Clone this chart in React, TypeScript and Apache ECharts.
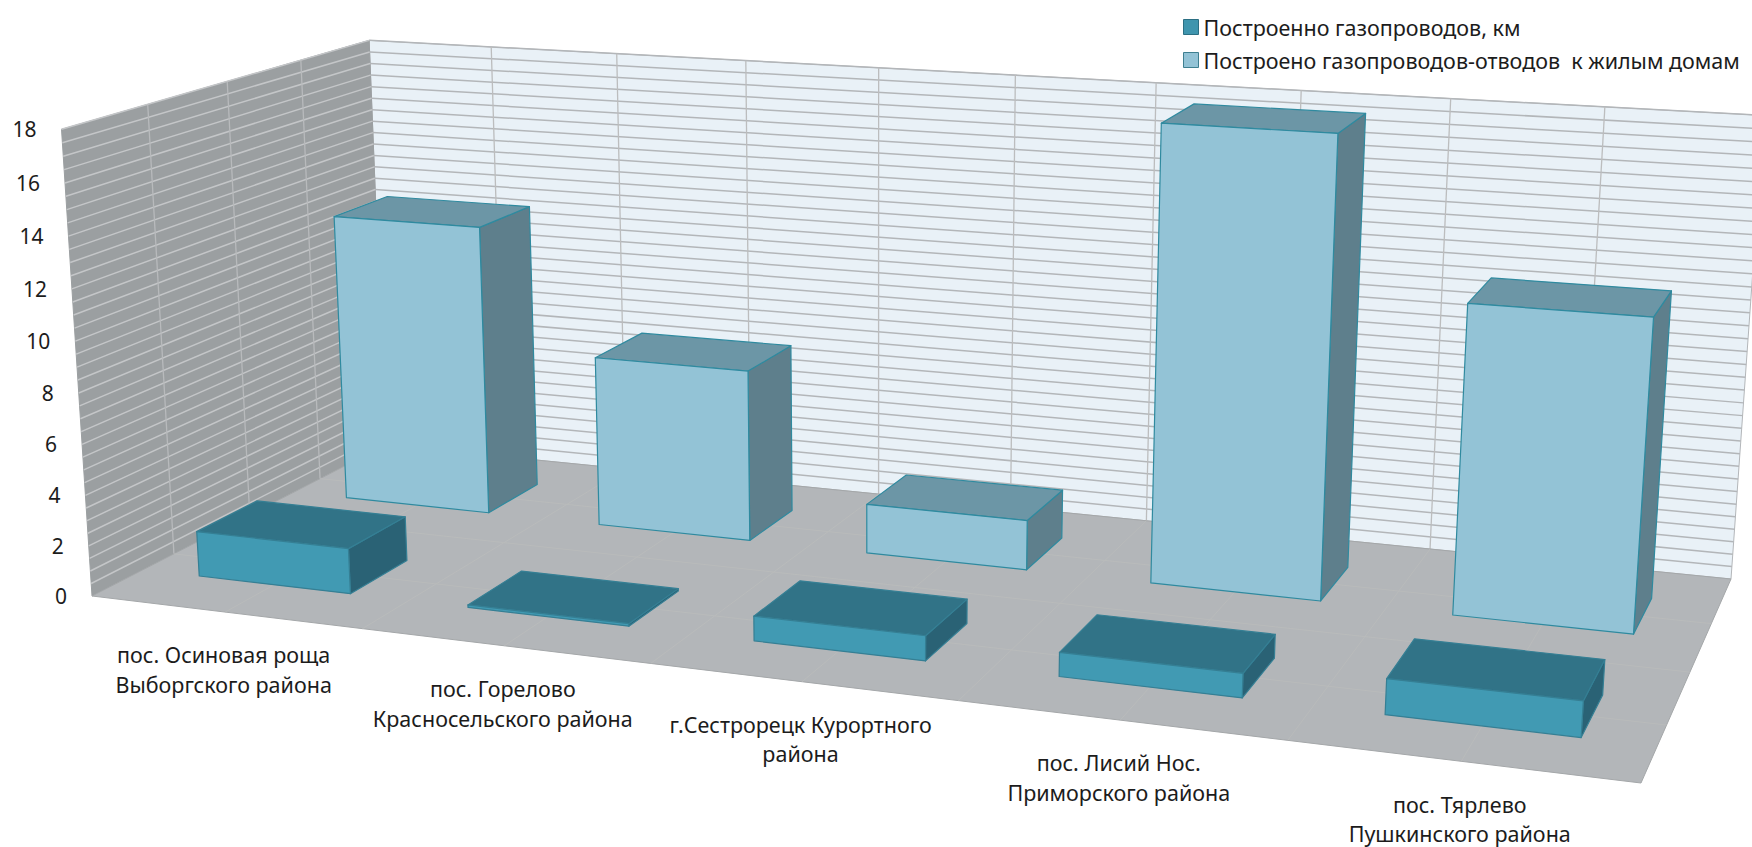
import React, { useEffect, useRef } from "react";
import * as echarts from "echarts";

const categories = [
  "пос. Осиновая роща\nВыборгского района",
  "пос. Горелово\nКрасносельского района",
  "г.Сестрорецк Курортного\nрайона",
  "пос. Лисий Нос.\nПриморского района",
  "пос. Тярлево\nПушкинского района",
];
const seriesNames = ["Построенно газопроводов, км", "Построено газопроводов-отводов  к жилым домам"];
const pipelinesKm = [1.8, 0.1, 0.95, 0.9, 1.3];
const branchPipelines = [12, 7, 2, 17.85, 11.9];
const valueTicks = [0, 2, 4, 6, 8, 10, 12, 14, 16, 18];
const minorStep = 0.5;
const axisMax = 18;

const W = 1752;
const H = 847;
const FONT = "'Noto Sans', sans-serif";

// Perspective camera of the 3-D box: floor corners in pixels, vertical vanishing terms.
const floorQuad = { x: [92, 1641, 1731, 385.5], y: [596, 783, 579, 445] };
const lift = { p: -32.8, q: -471.5, k: -0.0374 };

function floorMatrix() {
  const [x0, x1, x2, x3] = floorQuad.x;
  const [y0, y1, y2, y3] = floorQuad.y;
  const dx1 = x1 - x2, dx2 = x3 - x2, sx = x0 - x1 + x2 - x3;
  const dy1 = y1 - y2, dy2 = y3 - y2, sy = y0 - y1 + y2 - y3;
  const det = dx1 * dy2 - dx2 * dy1;
  const g = (sx * dy2 - dx2 * sy) / det;
  const h = (dx1 * sy - sx * dy1) / det;
  return {
    a: x1 - x0 + g * x1, b: x3 - x0 + h * x3, c: x0,
    d: y1 - y0 + g * y1, e: y3 - y0 + h * y3, f: y0, g, h,
  };
}
const M = floorMatrix();
function project(u: number, v: number, t: number): [number, number] {
  const w = M.g * u + M.h * v + 1 + lift.k * t;
  return [
    (M.a * u + M.b * v + M.c + lift.p * t) / w,
    (M.d * u + M.e * v + M.f + lift.q * t) / w,
  ];
}

const BAR_HALF = 0.285; // share of a category band, either side of its centre
const rows = { front: [0.155, 0.35], back: [0.655, 0.85] };

const backWallFill = "#e9f1f7";
const backLine = "#b3b6b9";
const sideWallFill = "#9b9fa1";
const sideLine = "#c4c6c8";
const floorFill = "#b3b6b9";
const floorLine = "#b9bbbb";

function boxRenderer(v0: number, v1: number, col: { front: string; top: string; side: string; edge: string }) {
  return (params: any, api: any) => {
    const rect = params.coordSys;
    const i = api.value(0);
    const val = api.value(1);
    const [px, py] = api.coord([i, val]);
    const band = api.size([1, 0])[0];
    const u0 = (px - band * BAR_HALF - rect.x) / rect.width;
    const u1 = (px + band * BAR_HALF - rect.x) / rect.width;
    const t = (rect.y + rect.height - py) / rect.height;
    const poly = (pts: number[][], fill: string) => ({
      type: "polygon",
      shape: { points: pts },
      style: { fill, stroke: col.edge, lineWidth: 1.2, lineJoin: "round" },
    });
    return {
      type: "group",
      children: [
        poly([project(u1, v0, 0), project(u1, v1, 0), project(u1, v1, t), project(u1, v0, t)], col.side),
        poly([project(u0, v0, t), project(u1, v0, t), project(u1, v1, t), project(u0, v1, t)], col.top),
        poly([project(u0, v0, 0), project(u1, v0, 0), project(u1, v0, t), project(u0, v0, t)], col.front),
      ],
    };
  };
}

function backdrop(params: any, api: any) {
  const rect = params.coordSys;
  const tOf = (val: number) => (rect.y + rect.height - api.coord([0, val])[1]) / rect.height;
  const children: any[] = [];
  const face = (pts: number[][], fill: string, stroke: string) =>
    children.push({ type: "polygon", shape: { points: pts }, style: { fill, stroke, lineWidth: 1 } });
  const seg = (a: number[], b: number[], stroke: string, lineWidth = 1.4) =>
    children.push({
      type: "line",
      shape: { x1: a[0], y1: a[1], x2: b[0], y2: b[1] },
      style: { stroke, lineWidth },
    });

  face([project(0, 1, 0), project(1, 1, 0), project(1, 1, 1), project(0, 1, 1)], backWallFill, backLine);
  face([project(0, 0, 0), project(0, 1, 0), project(0, 1, 1), project(0, 0, 1)], sideWallFill, sideWallFill);

  const count = Math.round(axisMax / minorStep);
  for (let n = 1; n <= count; n++) {
    const t = tOf(n * minorStep);
    seg(project(0, 1, t), project(1, 1, t), backLine, 1.5);
    seg(project(0, 0, t), project(0, 1, t), sideLine, 1.5);
  }
  for (let n = 1; n < categories.length * 2; n++) {
    const u = n / (categories.length * 2);
    seg(project(u, 1, 0), project(u, 1, 1), "#bcbdbe", 1.3);
  }
  for (let n = 1; n < 4; n++) {
    const v = n / 4;
    seg(project(0, v, 0), project(0, v, 1), "#b8babc", 1.3);
  }

  face([project(0, 0, 0), project(1, 0, 0), project(1, 1, 0), project(0, 1, 0)], floorFill, "#a4a7a9");
  for (let n = 1; n < categories.length * 2; n++) {
    const u = n / (categories.length * 2);
    seg(project(u, 0, 0), project(u, 1, 0), floorLine, 1);
  }
  for (let n = 1; n < 4; n++) {
    const v = n / 4;
    seg(project(0, v, 0), project(1, v, 0), floorLine, 1);
  }
  return { type: "group", children };
}

function tickLabel(params: any, api: any) {
  const rect = params.coordSys;
  const val = api.value(1);
  const t = (rect.y + rect.height - api.coord([0, val])[1]) / rect.height;
  const [x, y] = project(0, 0, t);
  return {
    type: "text",
    x: x - 25,
    y: y,
    style: {
      text: String(val),
      textAlign: "right",
      textVerticalAlign: "middle",
      fontFamily: FONT,
      fontSize: 21,
      fill: "#1c1c1c",
    },
  };
}

function categoryLabel(params: any, api: any) {
  const rect = params.coordSys;
  const i = api.value(0);
  const [px] = api.coord([i, 0]);
  const [x, y] = project((px - rect.x) / rect.width, 0, 0);
  return {
    type: "text",
    x: x - 1.5,
    y: y + 57.5,
    style: {
      text: categories[i],
      textAlign: "center",
      textVerticalAlign: "middle",
      fontFamily: FONT,
      fontSize: 21.5,
      lineHeight: 29.5,
      fill: "#1c1c1c",
    },
  };
}

export default function App() {
  const ref = useRef<HTMLDivElement>(null);
  useEffect(() => {
    document.body.style.margin = "0";
    document.body.style.overflow = "hidden";
    const chart = echarts.init(ref.current!, undefined, { renderer: "svg" });
    chart.setOption({
      animation: false,
      backgroundColor: "#ffffff",
      grid: { left: 0, right: 0, top: 0, bottom: 0 },
      xAxis: { type: "category", data: categories, show: false },
      yAxis: { type: "value", min: 0, max: axisMax, interval: 2, show: false },
      legend: {
        left: 1178,
        top: 11,
        orient: "vertical",
        itemWidth: 15,
        itemHeight: 15,
        itemGap: 11,
        icon: "rect",
        selectedMode: false,
        textStyle: { fontFamily: FONT, fontSize: 21.5, color: "#1c1c1c" },
        data: [
          { name: seriesNames[0], itemStyle: { color: "#3f95ae", borderColor: "#2b6f83", borderWidth: 1 } },
          { name: seriesNames[1], itemStyle: { color: "#93c3d6", borderColor: "#3e7f90", borderWidth: 1 } },
        ],
      },
      series: [
        {
          type: "custom",
          name: "backdrop",
          z: 1,
          silent: true,
          clip: false,
          renderItem: backdrop,
          data: [[0, 0]],
          encode: { x: 0, y: 1 },
        },
        {
          type: "custom",
          name: seriesNames[1],
          z: 3,
          silent: true,
          clip: false,
          itemStyle: { color: "#93c3d6" },
          renderItem: boxRenderer(rows.back[0], rows.back[1], {
            front: "#93c3d6", top: "#6c96a6", side: "#5e7f8c", edge: "#2f8a9f",
          }),
          data: branchPipelines.map((v, i) => [i, v]),
          encode: { x: 0, y: 1 },
        },
        {
          type: "custom",
          name: seriesNames[0],
          z: 4,
          silent: true,
          clip: false,
          itemStyle: { color: "#3f95ae" },
          renderItem: boxRenderer(rows.front[0], rows.front[1], {
            front: "#419ab3", top: "#317387", side: "#2a6275", edge: "#357f94",
          }),
          data: pipelinesKm.map((v, i) => [i, v]),
          encode: { x: 0, y: 1 },
        },
        {
          type: "custom",
          name: "ticks",
          z: 5,
          silent: true,
          clip: false,
          renderItem: tickLabel,
          data: valueTicks.map((v) => [0, v]),
          encode: { x: 0, y: 1 },
        },
        {
          type: "custom",
          name: "categories",
          z: 5,
          silent: true,
          clip: false,
          renderItem: categoryLabel,
          data: categories.map((_, i) => [i, 0]),
          encode: { x: 0, y: 1 },
        },
      ],
    });
    return () => chart.dispose();
  }, []);
  return <div ref={ref} style={{ width: W, height: H }} />;
}
